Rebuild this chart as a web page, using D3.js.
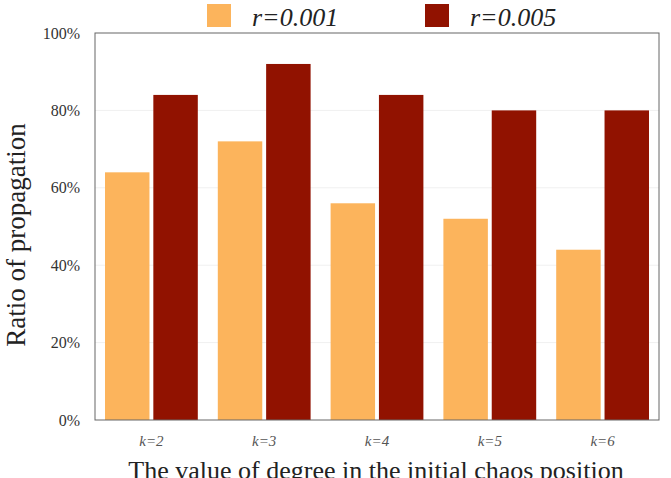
<!DOCTYPE html>
<html>
<head>
<meta charset="utf-8">
<script src="https://cdn.jsdelivr.net/npm/d3@7"></script>
<style>
  body { margin: 0; background: #fff; }
  svg text { font-family: "Liberation Serif", "Times New Roman", serif; }
</style>
</head>
<body>
<svg id="chart" width="671" height="478"></svg>
<script>
const categories = ["k=2", "k=3", "k=4", "k=5", "k=6"];
const seriesNames = ["r=0.001", "r=0.005"];
const low = [0.64, 0.72, 0.56, 0.52, 0.44];
const high = [0.84, 0.92, 0.84, 0.80, 0.80];
const yTicks = [0, 0.2, 0.4, 0.6, 0.8, 1.0];
const colors = ["#fcb45c", "#911200"];

const serif = "'Liberation Serif', 'Times New Roman', serif";
const svg = d3.select("#chart");
const margin = { left: 95, right: 12, top: 33, bottom: 58 };
const W = 671, H = 478;
const plotW = W - margin.left - margin.right;
const plotH = H - margin.top - margin.bottom;

const g = svg.append("g").attr("transform", `translate(${margin.left},${margin.top})`);

const x0 = d3.scaleBand().domain(categories).range([0, plotW]).padding(0);
const x1 = d3.scaleBand().domain(seriesNames).range([10, x0.bandwidth() - 10]).paddingInner(0.08);
const y = d3.scaleLinear().domain([0, 1]).range([plotH, 0]);

// faint grid
g.selectAll("line.grid").data(yTicks.slice(1, -1)).join("line")
  .attr("class", "grid")
  .attr("x1", 0).attr("x2", plotW)
  .attr("y1", d => y(d)).attr("y2", d => y(d))
  .attr("stroke", "#f0f0f0").attr("stroke-width", 1);

const rows = categories.map((c, i) => ({ cat: c, vals: [low[i], high[i]] }));

const groups = g.selectAll("g.grp").data(rows).join("g")
  .attr("class", "grp")
  .attr("transform", d => `translate(${x0(d.cat)},0)`);

groups.selectAll("rect").data(d => d.vals.map((v, j) => ({ s: seriesNames[j], v, j }))).join("rect")
  .attr("x", d => x1(d.s))
  .attr("width", x1.bandwidth())
  .attr("y", d => y(d.v))
  .attr("height", d => plotH - y(d.v))
  .attr("fill", d => colors[d.j]);

// frame
g.append("rect")
  .attr("x", 0).attr("y", 0).attr("width", plotW).attr("height", plotH)
  .attr("fill", "none").attr("stroke", "#666").attr("stroke-width", 1);

// y axis
const yAxis = g.append("g")
  .call(d3.axisLeft(y).tickValues(yTicks).tickFormat(d3.format(".0%")).tickSize(0).tickPadding(15));
yAxis.attr("font-family", serif);
yAxis.select(".domain").remove();
yAxis.selectAll("text").attr("font-size", 16).attr("fill", "#333")
  .style("font-family", serif);

// x axis
const xAxis = g.append("g")
  .attr("transform", `translate(0,${plotH})`)
  .call(d3.axisBottom(x0).tickSize(0).tickPadding(0));
xAxis.attr("font-family", serif);
xAxis.select(".domain").remove();
xAxis.selectAll("text").attr("font-size", 15).attr("fill", "#555")
  .attr("font-style", "italic")
  .attr("dy", 26)
  .style("font-family", serif);

// axis titles
svg.append("text")
  .attr("transform", `translate(25,235) rotate(-90)`)
  .attr("text-anchor", "middle")
  .attr("font-size", 27).attr("fill", "#222")
  .style("font-family", serif)
  .text("Ratio of propagation");

svg.append("text")
  .attr("x", margin.left + plotW / 2 - 1).attr("y", 479)
  .attr("text-anchor", "middle")
  .attr("font-size", 26).attr("fill", "#222")
  .style("font-family", serif)
  .text("The value of degree in the initial chaos position");

// legend
const legendX = [207, 425];
const legend = svg.selectAll("g.leg").data(seriesNames).join("g")
  .attr("class", "leg")
  .attr("transform", (d, i) => `translate(${legendX[i]},4)`);
legend.append("rect").attr("width", 24).attr("height", 23)
  .attr("fill", (d, i) => colors[i]);
legend.append("text").attr("x", 45).attr("y", 22)
  .attr("font-size", 26).attr("font-style", "italic").attr("fill", "#222")
  .style("font-family", serif)
  .text(d => d);
</script>
</body>
</html>
